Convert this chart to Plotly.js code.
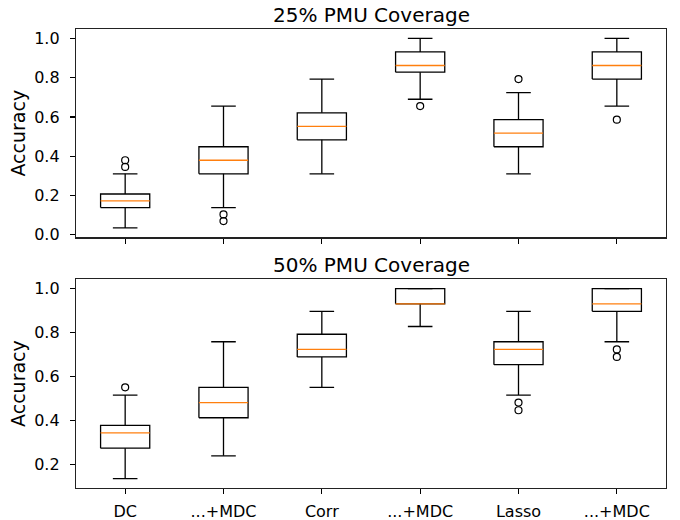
<!DOCTYPE html>
<html>
<head>
<meta charset="utf-8">
<script src="https://cdn.plot.ly/plotly-3.0.1.min.js"></script>
<style>html,body{margin:0;padding:0;background:#fff;}#chart{width:680px;height:520px;}</style>
</head>
<body>
<div id="chart"></div>
<script>
// ---- data ----
const categories = ['DC', '...+MDC', 'Corr', '...+MDC', 'Lasso', '...+MDC'];
const positions = [1, 2, 3, 4, 5, 6];

// 25% PMU coverage
const top_lower  = [0.034, 0.138, 0.310, 0.690, 0.310, 0.655];
const top_q1     = [0.138, 0.310, 0.483, 0.828, 0.448, 0.793];
const top_median = [0.172, 0.379, 0.552, 0.862, 0.517, 0.862];
const top_q3     = [0.207, 0.448, 0.621, 0.931, 0.586, 0.931];
const top_upper  = [0.310, 0.655, 0.793, 1.000, 0.724, 1.000];
const top_outliers = [[0.345, 0.379], [0.069, 0.103], [], [0.655], [0.793], [0.586]];

// 50% PMU coverage
const bot_lower  = [0.138, 0.241, 0.552, 0.828, 0.517, 0.759];
const bot_q1     = [0.276, 0.414, 0.690, 0.931, 0.655, 0.897];
const bot_median = [0.345, 0.483, 0.724, 0.931, 0.724, 0.931];
const bot_q3     = [0.379, 0.552, 0.793, 1.000, 0.759, 1.000];
const bot_upper  = [0.517, 0.759, 0.897, 1.000, 0.897, 1.000];
const bot_outliers = [[0.552], [], [], [], [0.448, 0.483], [0.690, 0.724]];

const titles = ['25% PMU Coverage', '50% PMU Coverage'];

// ---- build traces ----
const BOXW = 0.5, CAPW = 0.25;
function panel(lower, q1, med, q3, upper, outl, xa, ya) {
  const bx = [], by = [];
  positions.forEach((p, i) => {
    const l = p - BOXW / 2, r = p + BOXW / 2, cl = p - CAPW / 2, cr = p + CAPW / 2;
    bx.push(l, r, r, l, l, null); by.push(q1[i], q1[i], q3[i], q3[i], q1[i], null);
    bx.push(p, p, null, p, p, null); by.push(q3[i], upper[i], null, q1[i], lower[i], null);
    bx.push(cl, cr, null, cl, cr, null); by.push(upper[i], upper[i], null, lower[i], lower[i], null);
  });
  const boxes = {
    type: 'scatter', mode: 'lines', x: bx, y: by,
    line: {color: '#000', width: 1.3}, xaxis: xa, yaxis: ya, showlegend: false, hoverinfo: 'skip'
  };
  const mx = [], my = [];
  positions.forEach((p, i) => { mx.push(p - BOXW / 2, p + BOXW / 2, null); my.push(med[i], med[i], null); });
  const medLine = {
    type: 'scatter', mode: 'lines', x: mx, y: my,
    line: {color: '#ff7f0e', width: 1.3}, xaxis: xa, yaxis: ya, showlegend: false, hoverinfo: 'skip'
  };
  const ox = [], oy = [];
  outl.forEach((arr, i) => arr.forEach(v => { ox.push(positions[i]); oy.push(v); }));
  const fl = {
    type: 'scatter', mode: 'markers', x: ox, y: oy,
    marker: {symbol: 'circle-open', size: 7, color: '#000', line: {width: 1.2, color: '#000'}},
    xaxis: xa, yaxis: ya, showlegend: false, hoverinfo: 'skip'
  };
  return [boxes, medLine, fl];
}

const data = [].concat(
  panel(top_lower, top_q1, top_median, top_q3, top_upper, top_outliers, 'x', 'y'),
  panel(bot_lower, bot_q1, bot_median, bot_q3, bot_upper, bot_outliers, 'x2', 'y2')
);

const tickFont = {family: 'DejaVu Sans', size: 16, color: '#000'};
const labelFont = {family: 'DejaVu Sans', size: 19, color: '#000'};
const titleFont = {family: 'DejaVu Sans', size: 20, color: '#000'};
const axBase = {
  showline: true, mirror: true, linecolor: '#222', linewidth: 1.2,
  ticks: 'outside', ticklen: 5, tickcolor: '#000', tickwidth: 1.2,
  showgrid: false, zeroline: false, tickfont: tickFont
};

const topDom = [0.546, 1.0], botDom = [0.0, 0.455];

const layout = {
  width: 680, height: 520,
  margin: {l: 76, r: 14, t: 29, b: 32},
  paper_bgcolor: '#fff', plot_bgcolor: '#fff',
  font: tickFont,
  showlegend: false,
  xaxis: Object.assign({}, axBase, {domain: [0, 1], anchor: 'y', range: [0.5, 6.5],
    tickvals: positions, showticklabels: false}),
  yaxis: Object.assign({}, axBase, {domain: topDom, anchor: 'x', range: [-0.014, 1.048],
    tickvals: [0, 0.2, 0.4, 0.6, 0.8, 1.0], tickformat: '.1f', ticklabelstandoff: 7,
    title: {text: 'Accuracy', font: labelFont, standoff: 3}}),
  xaxis2: Object.assign({}, axBase, {domain: [0, 1], anchor: 'y2', range: [0.5, 6.5],
    tickvals: positions, ticktext: categories, ticklabelstandoff: 4}),
  yaxis2: Object.assign({}, axBase, {domain: botDom, anchor: 'x2', range: [0.095, 1.043],
    tickvals: [0.2, 0.4, 0.6, 0.8, 1.0], tickformat: '.1f', ticklabelstandoff: 7,
    title: {text: 'Accuracy', font: labelFont, standoff: 3}}),
  annotations: [
    {text: titles[0], xref: 'paper', yref: 'paper', x: 0.5, y: topDom[1], xanchor: 'center', yanchor: 'bottom',
     showarrow: false, yshift: 0, font: titleFont},
    {text: titles[1], xref: 'paper', yref: 'paper', x: 0.5, y: botDom[1], xanchor: 'center', yanchor: 'bottom',
     showarrow: false, yshift: 0, font: titleFont}
  ]
};

Plotly.newPlot('chart', data, layout, {displayModeBar: false, staticPlot: true});
</script>
</body>
</html>
